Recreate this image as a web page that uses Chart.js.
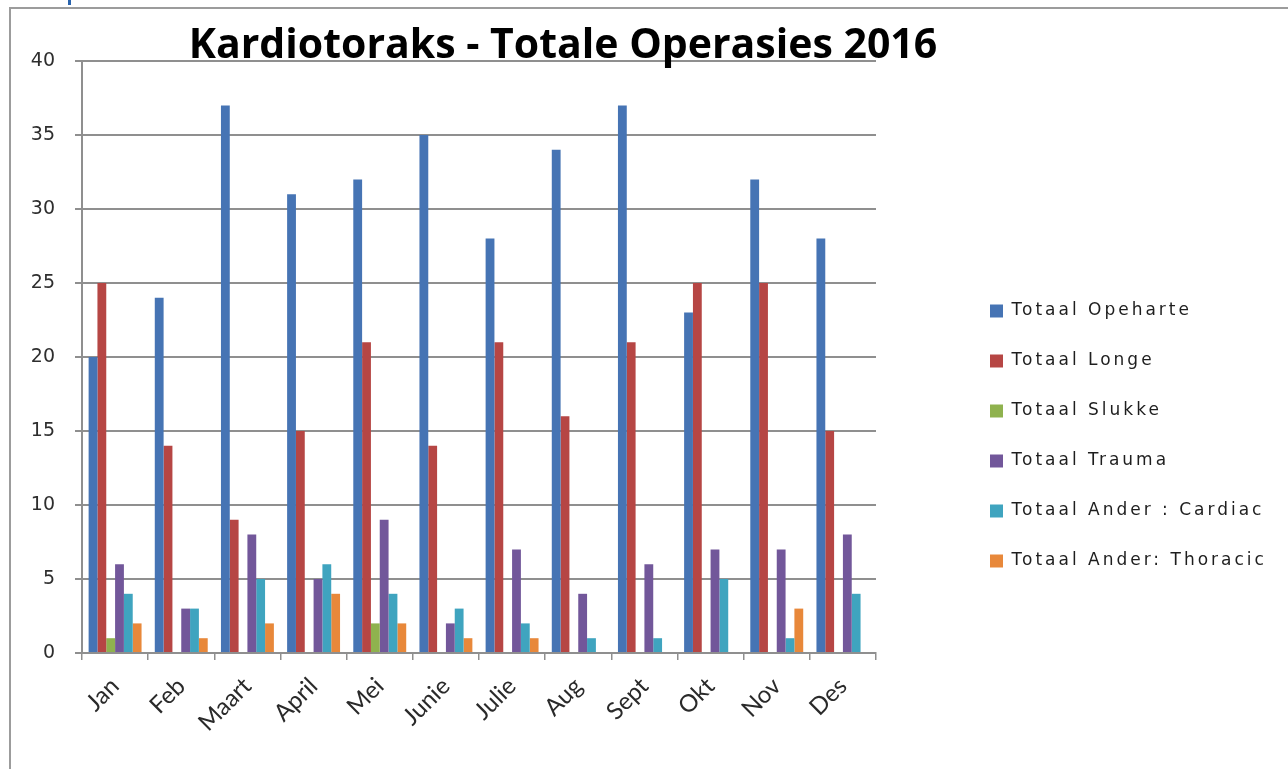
<!DOCTYPE html>
<html>
<head>
<meta charset="utf-8">
<title>Kardiotoraks - Totale Operasies 2016</title>
<script src="https://cdn.jsdelivr.net/npm/chart.js@4/dist/chart.umd.min.js"></script>
<style>
  html, body { margin: 0; padding: 0; background: #ffffff; }
  #wrap { position: relative; width: 1288px; height: 769px; overflow: hidden; }
  #frame { position: absolute; left: 9px; top: 7px; width: 1400px; height: 900px;
           border-top: 2px solid #9c9c9c; border-left: 2px solid #9c9c9c; }
  #mark { position: absolute; left: 68px; top: 0; width: 3px; height: 5px; background: #2a64ad; }
  #c { position: absolute; left: 0; top: 0; }
</style>
</head>
<body>
<div id="wrap">
  <div id="frame"></div>
  <div id="mark"></div>
  <canvas id="c" width="1288" height="769"></canvas>
</div>
<script>
// Monthly totals per operation type
const months = ['Jan', 'Feb', 'Maart', 'April', 'Mei', 'Junie', 'Julie', 'Aug', 'Sept', 'Okt', 'Nov', 'Des'];
const opeharte      = [20, 24, 37, 31, 32, 35, 28, 34, 37, 23, 32, 28];
const longe         = [25, 14,  9, 15, 21, 14, 21, 16, 21, 25, 25, 15];
const slukke        = [ 1,  0,  0,  0,  2,  0,  0,  0,  0,  0,  0,  0];
const trauma        = [ 6,  3,  8,  5,  9,  2,  7,  4,  6,  7,  7,  8];
const anderCardiac  = [ 4,  3,  5,  6,  4,  3,  2,  1,  1,  5,  1,  4];
const anderThoracic = [ 2,  1,  2,  4,  2,  1,  1,  0,  0,  0,  3,  0];

const seriesNames = ['Totaal Opeharte', 'Totaal Longe', 'Totaal Slukke', 'Totaal Trauma',
                     'Totaal Ander : Cardiac', 'Totaal Ander: Thoracic'];
const seriesValues = [opeharte, longe, slukke, trauma, anderCardiac, anderThoracic];
const seriesColors = ['#4674B4', '#B64644', '#8FB24E', '#72579A', '#3FA4BF', '#E8883A'];

const titleText = 'Kardiotoraks - Totale Operasies 2016';
const yTicks = { min: 0, max: 40, step: 5 };

// Chart title, drawn over the top of the plot
const titlePlugin = {
  id: 'chartTitle',
  afterDraw(chart) {
    const ctx = chart.ctx;
    ctx.save();
    ctx.font = 'bold 41px "Open Sans", Lato, sans-serif';
    ctx.fillStyle = '#000000';
    ctx.textAlign = 'center';
    ctx.textBaseline = 'alphabetic';
    ctx.fillText(titleText, 563, 58);
    ctx.restore();
  }
};

// Legend: wider letter spacing and a fixed box width next to the plot
const LEGEND_WIDTH = 331;
const legendStyle = {
  id: 'legendStyle',
  beforeUpdate(chart) {
    const lg = chart.legend;
    if (!lg || lg._styled) return;
    const origFit = lg.fit;
    lg.fit = function (...args) {
      const r = origFit.apply(this, args);
      this.width = LEGEND_WIDTH;
      return r;
    };
    const origDraw = lg.draw;
    lg.draw = function (...args) {
      const ctx = this.ctx;
      const prev = ctx.letterSpacing;
      ctx.letterSpacing = '3px';
      try { return origDraw.apply(this, args); } finally { ctx.letterSpacing = prev; }
    };
    lg._styled = true;
  }
};

const gridGray = '#8f8f8f';

new Chart(document.getElementById('c'), {
  type: 'bar',
  data: {
    labels: months,
    datasets: seriesNames.map((name, i) => ({
      label: name,
      data: seriesValues[i],
      backgroundColor: seriesColors[i],
      borderWidth: 0,
      categoryPercentage: 0.8,
      barPercentage: 1.0
    }))
  },
  options: {
    responsive: false,
    devicePixelRatio: 1,
    animation: false,
    layout: { padding: { top: 61, left: 0, right: 0, bottom: 0 } },
    plugins: {
      title: { display: false },
      tooltip: { enabled: false },
      legend: {
        display: true,
        position: 'right',
        align: 'center',
        title: { display: true, text: '', font: { size: 10 }, padding: { top: 30, bottom: 0 } },
        labels: {
          boxWidth: 13,
          boxHeight: 13,
          padding: 33,
          color: '#1e1e1e',
          font: { family: '"DejaVu Sans", sans-serif', size: 17 }
        }
      }
    },
    scales: {
      x: {
        grid: {
          display: true,
          drawOnChartArea: false,
          drawTicks: true,
          tickLength: 7,
          color: gridGray,
          lineWidth: 1.5
        },
        border: { display: true, color: gridGray, width: 2 },
        ticks: {
          minRotation: 45,
          maxRotation: 45,
          padding: 12,
          color: '#2a2a2a',
          font: { family: 'Lato, "Open Sans", sans-serif', size: 24 }
        },
        afterFit(scale) { scale.height = 116; }
      },
      y: {
        min: yTicks.min,
        max: yTicks.max,
        ticks: {
          stepSize: yTicks.step,
          padding: 20,
          color: '#2e2e2e',
          font: { family: '"DejaVu Sans", sans-serif', size: 19 }
        },
        grid: {
          color: gridGray,
          lineWidth: 2,
          drawTicks: true,
          tickLength: 7
        },
        border: { display: true, color: gridGray, width: 2 },
        afterFit(scale) { scale.width = 82; }
      },
      gap: {
        type: 'linear',
        position: 'right',
        display: true,
        grid: { display: false, drawTicks: false },
        border: { display: false },
        ticks: { display: false },
        afterFit(scale) { scale.width = 81; }
      }
    }
  },
  plugins: [legendStyle, titlePlugin]
});
</script>
</body>
</html>
